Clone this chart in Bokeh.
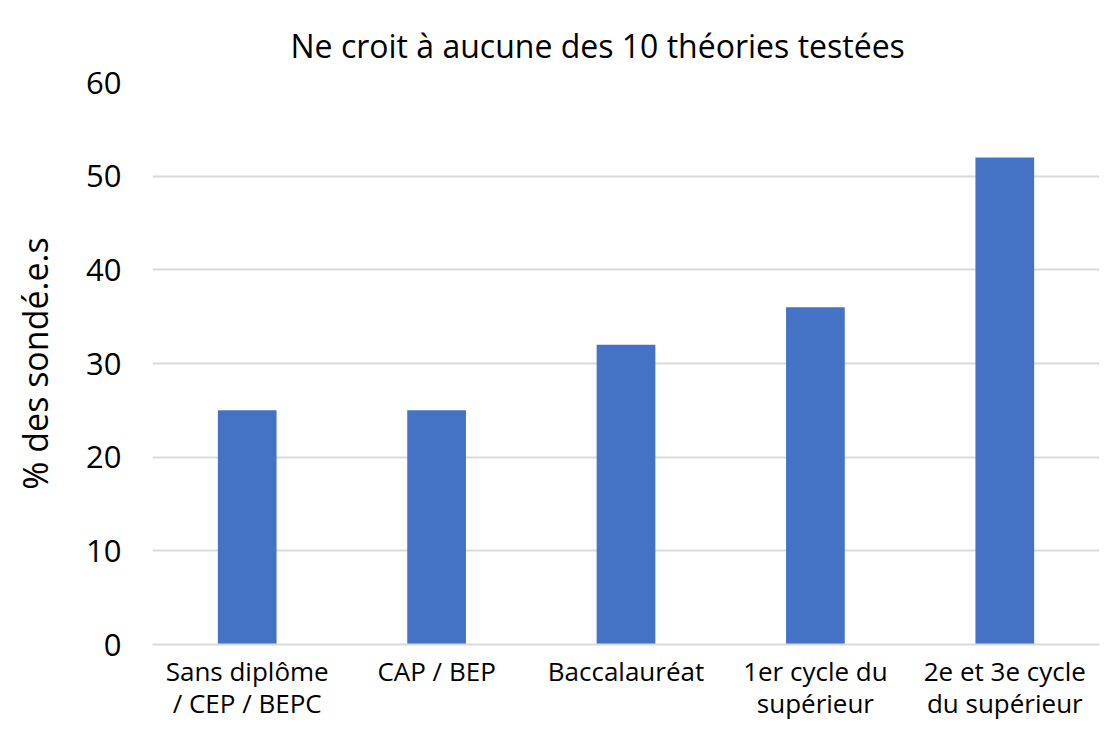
from bokeh.plotting import figure
from bokeh.models import (Range1d, FactorRange, Title, SingleIntervalTicker,
                          CategoricalAxis)
from bokeh.embed import file_html
from bokeh.resources import INLINE

# category labels, first and second line
labels_line1 = ["Sans diplôme", "CAP / BEP", "Baccalauréat",
                "1er cycle du", "2e et 3e cycle"]
labels_line2 = ["/ CEP / BEPC", " ", "  ", "supérieur", "du supérieur"]
values = [25, 25, 32, 36, 52]

FONT = "Open Sans"

p = figure(width=1103, height=723, x_range=FactorRange(*labels_line1),
           y_range=Range1d(0, 60), output_backend="svg", toolbar_location=None,
           min_border_left=152, min_border_right=4, min_border_top=82,
           min_border_bottom=0)
p.extra_x_ranges = {"line2": FactorRange(*labels_line2)}
p.outline_line_color = None

p.vbar(x=labels_line1, top=values, width=0.31, fill_color="#4472c4",
       line_color=None)

t = Title(text="Ne croit à aucune des 10 théories testées", align="left",
          offset=138, text_font=FONT, text_font_size="32px",
          text_font_style="normal", text_color="#000000", standoff=30,
          vertical_align="middle")
p.add_layout(t, "above")

p.yaxis.ticker = SingleIntervalTicker(interval=10)
p.yaxis.axis_line_color = None
p.yaxis.major_tick_line_color = None
p.yaxis.minor_tick_line_color = None
p.yaxis.major_label_text_font = FONT
p.yaxis.major_label_text_font_size = "31px"
p.yaxis.major_label_text_color = "#000000"
p.yaxis.major_label_standoff = 25
p.yaxis.axis_label = "% des sondé.e.s"
p.yaxis.axis_label_text_font = FONT
p.yaxis.axis_label_text_font_size = "34px"
p.yaxis.axis_label_text_font_style = "normal"
p.yaxis.axis_label_text_color = "#000000"
p.yaxis.axis_label_standoff = 25

xa = p.xaxis[0]
xa.axis_line_color = "#d9d9d9"
xa.axis_line_width = 2
xa.major_tick_line_color = None
xa.major_tick_out = 0
xa.major_tick_in = 0
xa.minor_tick_line_color = None
xa.major_label_text_font = FONT
xa.major_label_text_font_size = "26px"
xa.major_label_text_color = "#000000"
xa.major_label_standoff = 8

ax2 = CategoricalAxis(x_range_name="line2", axis_line_color=None,
                      major_tick_line_color=None, major_tick_out=0,
                      major_tick_in=0, minor_tick_line_color=None,
                      major_label_text_font=FONT,
                      major_label_text_font_size="26px",
                      major_label_text_color="#000000",
                      major_label_standoff=-7)
p.add_layout(ax2, "below")

p.xgrid.grid_line_color = None
p.ygrid.grid_line_color = "#d9d9d9"
p.ygrid.grid_line_width = 2

open("out.html", "w").write(file_html(p, INLINE))
